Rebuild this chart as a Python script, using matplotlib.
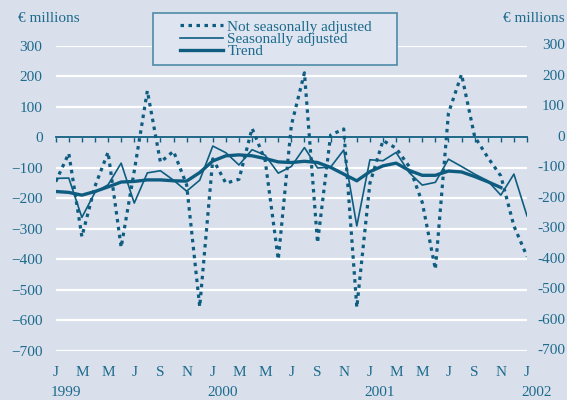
import numpy as np
import matplotlib
matplotlib.use("Agg")
import matplotlib.pyplot as plt
from matplotlib.patches import Rectangle
from matplotlib.transforms import blended_transform_factory

plt.rcParams['font.family'] = ['Liberation Serif', 'DejaVu Serif']

# monthly data, Jan 1999 .. Jan 2002 (index 0..36), € millions
not_sa = [-145, -52, -325, -160, -48, -360, -110, 153, -81, -45, -155, -555,
          -70, -150, -137, 30, -75, -400, 40, 212, -345, 8, 28, -557,
          -150, -10, -35, -95, -213, -432, 80, 207, 3, -65, -126, -290, -390]
sa = [-134, -133, -262, -180, -155, -84, -215, -116, -109, -140, -176, -140,
      -28, -50, -90, -40, -58, -117, -95, -33, -100, -97, -41, -290,
      -73, -76, -49, -115, -156, -147, -71, -95, -120, -142, -189, -120, -257]
trend = [-177, -180, -189, -177, -162, -146, -144, -139, -139, -142, -143, -115,
         -77, -60, -57, -60, -69, -80, -82, -78, -82, -98, -120, -142,
         -112, -93, -84, -108, -124, -124, -110, -113, -128, -145, -164]

month_letters = ['J', 'M', 'M', 'J', 'S', 'N']
years = ['1999', '2000', '2001', '2002']
yticks = list(range(-700, 301, 100))

bg = '#d9e0ec'
ink = '#0e5d80'
txt = '#1d6a8c'

fig = plt.figure(figsize=(5.67, 4.0), dpi=100, facecolor=bg)
ax = fig.add_axes([55.7/567, 1-351/400, (527-55.7)/567, (351-46)/400])
ax.set_facecolor(bg)

x_nsa = np.arange(len(not_sa))
x_sa = np.arange(len(sa))
x_tr = np.arange(len(trend))

ax.plot(x_nsa, not_sa, color=ink, lw=2.3, linestyle=(0, (1.1, 1.4)),
        label='Not seasonally adjusted', zorder=3)
ax.plot(x_sa, sa, color=ink, lw=1.2, label='Seasonally adjusted', zorder=4)
ax.plot(x_tr, trend, color=ink, lw=2.4, label='Trend', zorder=5)

ax.set_xlim(0, 36)
ax.set_ylim(-700, 300)
ax.set_yticks(yticks)
ax.yaxis.grid(True, color='white', lw=1.6)
ax.set_axisbelow(True)
for s in ['top', 'left', 'right']:
    ax.spines[s].set_visible(False)
ax.spines['bottom'].set_position(('data', 0))
ax.spines['bottom'].set_color(ink)
ax.spines['bottom'].set_linewidth(1.3)
ax.spines['bottom'].set_zorder(2)
ax.set_xticks(np.arange(0, 37))
ax.tick_params(axis='x', direction='out', length=3.5, width=1, color=ink,
               labelbottom=False)
ax.tick_params(axis='y', length=0, pad=9.5, labelsize=11, labelcolor=txt)

# right-hand value labels, right aligned at the figure edge
tr_right = blended_transform_factory(ax.transAxes, ax.transData)
for v in yticks:
    ax.text(1 + 38/471, v, str(v), transform=tr_right, ha='right', va='center',
            fontsize=11, color=txt, clip_on=False)

# month and year labels
for m in range(0, 37, 2):
    ax.text(m, -0.069, month_letters[(m // 2) % 6], transform=ax.get_xaxis_transform(),
            ha='center', va='center', fontsize=11, color=txt)
for k, yr in enumerate(years):
    ax.text(12*k + 0.75, -0.135, yr, transform=ax.get_xaxis_transform(),
            ha='center', va='center', fontsize=11, color=txt)

fig.text(18/567, 1-18/400, '€ millions', ha='left', va='center', fontsize=11, color=txt)
fig.text(565/567, 1-18/400, '€ millions', ha='right', va='center', fontsize=11, color=txt)

# legend box
fig.patches.append(Rectangle((153/567, 1-65/400), 244/567, 52/400, transform=fig.transFigure,
                             facecolor='#dee5f0', edgecolor='#4d8aa8', lw=1.2, zorder=1))
leg = fig.legend(loc='center', bbox_to_anchor=(276/567, 1-39/400), frameon=False,
                 fontsize=11, labelspacing=-0.1, handlelength=2.8, handletextpad=0.3,
                 borderpad=0)
for t in leg.get_texts():
    t.set_color(txt)

fig.savefig('out.png', dpi=100, facecolor=bg)
